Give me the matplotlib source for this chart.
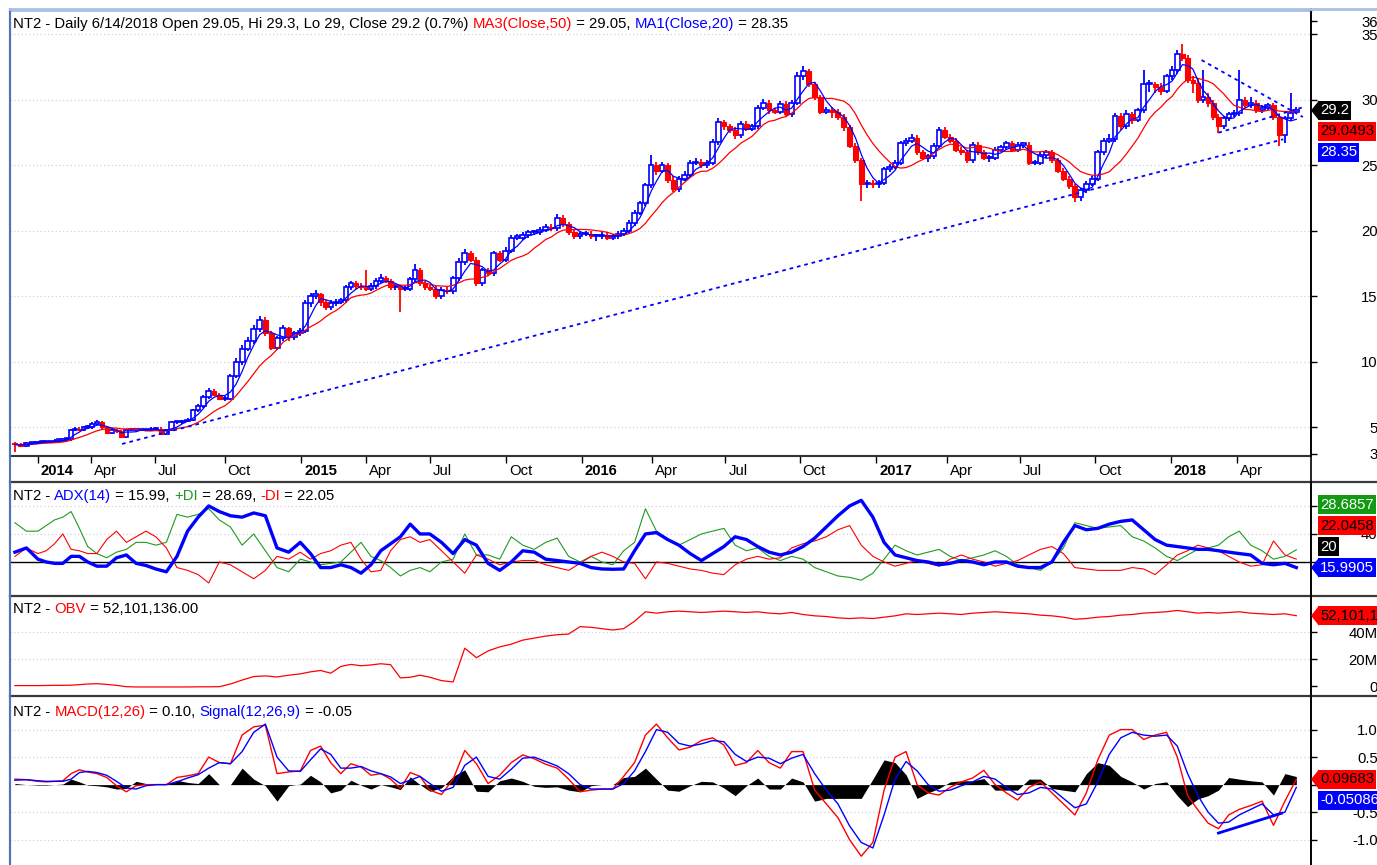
# -*- coding: utf-8 -*-
"""
Gráfico diario de NT2 al estilo AmiBroker: velas, medias móviles,
ADX/DI, OBV y MACD. Las velas se resumen por semana y los indicadores
se leen del gráfico cada dos semanas.
"""
import numpy as np
import pandas as pd
import matplotlib
matplotlib.use("Agg")
from matplotlib import pyplot as plt
import matplotlib.dates as mdates
from matplotlib.lines import Line2D
from matplotlib.patches import Polygon
from matplotlib.transforms import ScaledTranslation

plt.rcParams['font.family'] = ['Liberation Sans', 'DejaVu Sans']
plt.rcParams['font.size'] = 10.7

# ======================
# 1. Datos
# ======================
semanas = pd.date_range("2013-12-04", periods=237, freq="7D")

apertura = [
    3.8, 3.7, 3.6, 3.8, 3.8,
    3.9, 3.9, 3.9, 3.9, 4.0, 4.0, 4.1, 4.1, 4.8, 4.9, 4.8, 5.0,
    5.0, 5.3, 5.4, 5.0, 4.6, 4.8, 4.7, 4.3, 4.8, 4.8, 4.8, 4.8, 4.8,
    4.9, 4.9, 4.5, 4.8, 5.4, 5.4, 5.5, 5.6, 6.3, 6.6, 7.3, 7.8, 7.5,
    7.2, 7.2, 8.9, 10.0, 11.0, 11.6, 12.5, 13.2, 12.2, 11.1, 11.8, 12.6, 11.9, 12.2,
    12.4, 14.5, 15.0, 15.2, 14.6, 14.2, 14.5, 14.6, 14.7, 15.7, 16.0, 15.8,
    15.7, 15.6, 15.8, 16.2, 16.4, 16.2, 15.7, 15.7, 15.6, 15.6, 16.3, 17.0, 16.0,
    15.7, 15.6, 15.0, 15.5, 15.4, 16.4, 17.6, 18.3, 17.8, 16.0, 17.0, 16.8, 18.3, 17.8,
    18.5, 19.5, 19.5, 19.7, 19.9, 19.9, 20.1, 20.3, 20.2, 21.0, 20.5, 19.9, 19.6,
    19.8, 19.8, 19.6, 19.6, 19.7, 19.5, 19.6, 19.8, 20.0, 20.6, 21.4, 22.1, 23.5,
    25.0, 24.6, 25.0, 23.9, 23.2, 24.0, 24.3, 25.2, 25.3, 25.0, 25.2, 26.8, 28.3,
    28.0, 27.7, 27.3, 28.2, 27.8, 28.0, 29.4, 29.8, 29.2, 29.1, 29.7, 28.9, 29.8,
    31.8, 32.2, 31.2, 30.2, 29.1, 29.2, 29.1, 28.7, 27.9, 26.5, 25.4, 23.6, 23.7,
    23.6, 23.7, 24.7, 24.9, 25.2, 26.7, 26.9, 27.1, 26.0, 25.6, 25.7, 26.5, 27.7,
    27.2, 26.9, 26.2, 26.0, 25.4, 26.6, 26.0, 25.6, 25.6, 26.2, 26.4, 26.7, 26.2,
    26.6, 26.6, 25.2, 25.2, 25.8, 26.0, 25.4, 24.6, 24.0, 23.4, 22.6, 23.1, 23.6,
    24.0, 26.0, 26.9, 27.0, 28.8, 28.0, 28.9, 28.5, 29.2, 31.2, 31.2, 31.0, 30.7,
    31.8, 32.3, 33.5, 33.2, 31.5, 31.3, 30.0, 30.2, 29.8, 28.7, 28.0, 28.6, 28.9,
    29.0, 30.0, 29.6, 29.8, 29.2, 29.4, 29.6, 28.7, 27.3, 28.6, 29.05,
]
maximo = [
    3.9, 3.8, 3.9, 3.9, 4.0,
    4.0, 4.0, 4.0, 4.1, 4.1, 4.2, 4.2, 4.9, 5.0, 5.0, 5.1, 5.2,
    5.4, 5.6, 5.5, 5.1, 4.9, 4.9, 4.8, 4.9, 4.9, 4.9, 4.9, 4.9, 5.0,
    5.0, 5.0, 4.9, 5.5, 5.5, 5.6, 5.7, 6.4, 6.8, 7.5, 8.0, 7.9, 7.6,
    7.4, 9.1, 10.3, 11.3, 11.9, 12.8, 13.5, 13.4, 12.4, 12.0, 12.8, 12.7, 12.4, 12.6,
    14.7, 15.3, 15.5, 15.3, 14.7, 14.7, 14.8, 14.9, 15.9, 16.2, 16.2, 16.0,
    17.0, 16.0, 16.4, 16.7, 16.6, 16.3, 15.9, 15.9, 15.8, 16.5, 17.5, 17.2, 16.2,
    15.9, 15.8, 15.7, 15.7, 16.6, 17.9, 18.6, 18.5, 18.0, 17.2, 17.2, 18.5, 18.5, 18.8,
    19.7, 19.8, 19.9, 20.1, 20.1, 20.3, 20.5, 20.5, 21.3, 21.2, 20.7, 20.1, 20.0,
    20.0, 20.0, 19.8, 19.9, 19.9, 19.8, 20.0, 20.2, 20.8, 21.6, 22.3, 23.7, 25.8,
    25.3, 25.3, 25.2, 24.2, 24.2, 24.6, 25.4, 25.6, 25.5, 25.4, 27.0, 28.6, 28.5,
    28.2, 27.9, 28.4, 28.4, 28.2, 29.6, 30.1, 30.0, 29.4, 29.9, 29.9, 30.0, 32.1,
    32.6, 32.4, 31.4, 30.4, 29.5, 29.5, 29.3, 28.9, 28.1, 26.7, 25.6, 23.9, 23.9,
    23.9, 24.9, 25.1, 25.4, 26.9, 27.1, 27.4, 27.3, 26.2, 25.9, 26.7, 27.9, 27.9,
    27.4, 27.1, 26.4, 26.2, 26.8, 26.8, 26.2, 25.8, 26.4, 26.6, 26.9, 26.9, 26.8,
    26.8, 26.8, 25.4, 26.0, 26.2, 26.2, 25.6, 24.8, 24.2, 23.6, 23.3, 23.8, 24.2,
    26.2, 27.1, 27.4, 29.0, 29.0, 29.2, 29.1, 29.4, 32.3, 31.5, 31.4, 31.3, 32.0,
    32.6, 33.8, 34.3, 33.4, 31.8, 31.6, 32.3, 30.5, 30.0, 28.9, 28.8, 29.1, 29.2,
    32.3, 30.2, 30.2, 30.0, 29.6, 29.8, 29.8, 28.9, 28.8, 30.5, 29.5,
]
minimo = [
    3.1, 3.5, 3.5, 3.7, 3.7,
    3.8, 3.8, 3.8, 3.8, 3.9, 3.9, 4.0, 4.0, 4.7, 4.7, 4.7, 4.9,
    4.9, 5.2, 4.9, 4.5, 4.5, 4.6, 4.2, 4.2, 4.7, 4.7, 4.7, 4.7, 4.7,
    4.8, 4.4, 4.4, 4.7, 5.3, 5.3, 5.4, 5.5, 6.2, 6.5, 7.2, 7.4, 7.1,
    7.0, 7.1, 8.8, 9.8, 10.8, 11.4, 12.3, 12.0, 10.9, 10.9, 11.6, 11.6, 11.7, 12.0,
    12.2, 14.2, 14.8, 14.3, 14.0, 14.0, 14.3, 14.4, 14.5, 15.5, 15.6, 15.5,
    15.4, 15.4, 15.6, 16.0, 16.0, 15.5, 15.5, 13.8, 15.4, 15.4, 16.1, 15.8, 15.5,
    15.4, 14.8, 14.8, 15.2, 15.2, 16.2, 17.4, 17.6, 15.8, 15.8, 16.6, 16.6, 17.6, 17.6,
    18.3, 19.3, 19.3, 19.5, 19.7, 19.7, 19.9, 20.0, 20.0, 20.3, 19.7, 19.4, 19.4,
    19.6, 19.4, 19.2, 19.4, 19.3, 19.3, 19.4, 19.6, 19.8, 20.4, 21.2, 21.9, 23.3,
    24.3, 24.4, 23.7, 23.0, 23.0, 23.8, 24.1, 25.0, 24.8, 24.8, 25.0, 26.6, 27.7,
    27.5, 27.0, 27.1, 27.6, 27.6, 27.8, 29.2, 28.9, 28.9, 28.9, 28.7, 28.7, 29.6,
    31.5, 31.0, 30.0, 28.9, 28.9, 28.6, 28.5, 27.6, 26.3, 25.2, 22.3, 23.3, 23.3,
    23.3, 23.5, 24.5, 24.7, 25.0, 26.5, 26.7, 25.8, 25.4, 25.3, 25.5, 26.3, 27.0,
    26.7, 26.0, 25.8, 25.2, 25.2, 25.8, 25.4, 25.3, 25.4, 26.0, 26.2, 26.0, 26.0,
    26.3, 25.0, 25.0, 25.0, 25.6, 25.2, 24.4, 23.8, 23.2, 22.2, 22.3, 22.9, 23.4,
    23.8, 25.8, 26.7, 26.8, 27.7, 27.8, 28.2, 28.3, 29.0, 30.6, 30.5, 30.4, 30.5,
    31.5, 32.0, 33.0, 31.3, 30.5, 29.8, 29.8, 29.5, 28.5, 27.5, 27.8, 28.4, 28.7,
    28.8, 29.4, 29.4, 29.0, 29.0, 29.2, 28.5, 26.5, 26.7, 28.4, 29.0,
]
cierre = [
    3.7, 3.6, 3.8, 3.8, 3.9,
    3.9, 3.9, 3.9, 4.0, 4.0, 4.1, 4.1, 4.8, 4.9, 4.8, 5.0, 5.0,
    5.3, 5.4, 5.0, 4.6, 4.8, 4.7, 4.3, 4.8, 4.8, 4.8, 4.8, 4.8, 4.9,
    4.9, 4.5, 4.8, 5.4, 5.4, 5.5, 5.6, 6.3, 6.6, 7.3, 7.8, 7.5, 7.2,
    7.2, 8.9, 10.0, 11.0, 11.6, 12.5, 13.2, 12.2, 11.1, 11.8, 12.6, 11.9, 12.2, 12.4,
    14.5, 15.0, 15.2, 14.6, 14.2, 14.5, 14.6, 14.7, 15.7, 16.0, 15.8, 15.7,
    15.6, 15.8, 16.2, 16.4, 16.2, 15.7, 15.7, 15.6, 15.6, 16.3, 17.0, 16.0, 15.7,
    15.6, 15.0, 15.5, 15.4, 16.4, 17.6, 18.3, 17.8, 16.0, 17.0, 16.8, 18.3, 17.8, 18.5,
    19.5, 19.5, 19.7, 19.9, 19.9, 20.1, 20.3, 20.2, 21.0, 20.5, 19.9, 19.6, 19.8,
    19.8, 19.6, 19.6, 19.7, 19.5, 19.6, 19.8, 20.0, 20.6, 21.4, 22.1, 23.5, 25.0,
    24.6, 25.0, 23.9, 23.2, 24.0, 24.3, 25.2, 25.3, 25.0, 25.2, 26.8, 28.3, 28.0,
    27.7, 27.3, 28.2, 27.8, 28.0, 29.4, 29.8, 29.2, 29.1, 29.7, 28.9, 29.8, 31.8,
    32.2, 31.2, 30.2, 29.1, 29.2, 29.1, 28.7, 27.9, 26.5, 25.4, 23.6, 23.7, 23.6,
    23.7, 24.7, 24.9, 25.2, 26.7, 26.9, 27.1, 26.0, 25.6, 25.7, 26.5, 27.7, 27.2,
    26.9, 26.2, 26.0, 25.4, 26.6, 26.0, 25.6, 25.6, 26.2, 26.4, 26.7, 26.2, 26.6,
    26.6, 25.2, 25.2, 25.8, 26.0, 25.4, 24.6, 24.0, 23.4, 22.6, 23.1, 23.6, 24.0,
    26.0, 26.9, 27.0, 28.8, 28.0, 28.9, 28.5, 29.2, 31.2, 31.2, 31.0, 30.7, 31.8,
    32.3, 33.5, 33.2, 31.5, 31.3, 30.0, 30.2, 29.8, 28.7, 28.0, 28.6, 28.9, 29.0,
    30.0, 29.6, 29.8, 29.2, 29.4, 29.6, 28.7, 27.3, 28.6, 29.0, 29.2,
]

# indicadores, uno cada dos semanas
adx = [
    27, 30, 22, 20, 19, 19, 24, 24, 20, 17, 17, 23, 25, 19, 17.5, 15, 13, 24, 42, 52,
    60, 56, 53, 52, 55, 53, 30, 27, 34, 26, 16, 16, 18, 16, 12, 18, 28, 33, 38, 47,
    40, 40, 34, 26, 36, 32, 19, 14, 20, 28, 27, 22, 21, 20, 19, 16, 15, 14.8, 15, 28,
    40, 41, 36, 32, 26, 21, 26, 31, 38, 36, 31, 27, 25, 27, 31, 37, 45, 53, 60, 64,
    52, 34, 25, 23, 21, 20, 18, 19, 21, 20, 18, 20, 20, 17, 16, 16, 20, 34, 46, 43,
    44, 47, 49, 50, 43, 36, 32, 31, 30, 29, 29, 28, 27, 26, 25, 19, 18, 19, 15.99,
]
di_mas = [
    48, 42, 42, 46, 50, 52, 56, 44, 31, 26, 23, 27, 29, 34, 34, 32, 34, 54, 52, 54,
    58, 50, 45, 32, 40, 28, 16, 13, 22, 20, 18, 19, 20, 27, 34, 24, 21, 16, 10, 14,
    16, 13, 20, 22, 40, 25, 25, 22, 38, 32, 29, 34, 37, 24, 20, 24, 20, 18, 28, 34,
    58, 42, 36, 32, 36, 40, 42, 44, 32, 28, 30, 24, 21, 24, 22, 16, 13, 10, 9, 7,
    12, 22, 32, 28, 25, 27, 29, 24, 21, 23, 25, 28, 24, 18, 16, 14, 20, 30, 48, 46,
    44, 45, 46, 38, 35, 30, 24, 21, 25, 29, 30, 32, 38, 42, 32, 28, 22, 24, 28.69,
]
di_menos = [
    24, 30, 26, 28, 33, 40, 29, 28, 26, 26, 36, 42, 34, 38, 42, 38, 30, 16, 14, 11,
    5, 20, 18, 13, 8, 14, 24, 22, 27, 22, 26, 28, 32, 34, 22, 13, 14, 28, 36, 38,
    34, 36, 28, 20, 12, 25, 22, 18, 20, 21, 21, 18, 16, 14, 19, 24, 27, 24, 20, 19,
    8, 20, 19, 17, 15, 14, 12, 11, 18, 22, 24, 22, 23, 30, 33, 35, 38, 43, 46, 32,
    24, 20, 17, 19, 21, 19, 17, 22, 25, 22, 20, 17, 19, 21, 25, 29, 31, 26, 16, 15,
    14, 14, 14, 16, 15, 11, 18, 25, 28, 32, 30, 28, 24, 20, 17, 18, 35, 25, 22.05,
]
obv_millones = [
    0.3, 0.3, 0.3, 0.4, 0.5, 0.5, 0.6, 1.0, 1.5, 1.7,
    1.2, 0.5, -0.5, -0.7, -0.7, -0.7, -0.7, -0.7, -0.7, -0.6,
    -0.6, -0.5, 1.5, 4.4, 7.0, 7.5, 6.7, 8.0, 9.0, 10.5,
    11.5, 9.5, 14.5, 16.0, 15.0, 15.6, 16.5, 15.8, 6.0, 6.5,
    8.0, 6.5, 4.0, 3.0, 28.0, 21.0, 26.0, 29.0, 31.0, 34.0,
    35.5, 37.0, 38.0, 38.5, 44.0, 43.5, 42.5, 41.5, 42.5, 48.0,
    55.0, 54.0, 55.0, 55.5, 55.0, 54.5, 55.0, 55.5, 55.0, 54.5,
    55.0, 54.0, 53.5, 54.5, 53.0, 52.0, 51.5, 50.5, 50.0, 50.5,
    50.0, 51.0, 52.0, 53.5, 53.0, 53.5, 54.0, 53.5, 53.0, 54.0,
    54.5, 55.0, 54.5, 54.0, 53.5, 52.5, 52.0, 51.0, 49.5, 50.0,
    51.0, 51.5, 52.5, 53.0, 54.0, 54.5, 55.0, 56.0, 55.0, 54.0,
    54.5, 54.0, 54.5, 55.0, 54.0, 53.5, 53.0, 53.5, 52.1,
]
macd = [
    0.1, 0.09, 0.06, 0.05, 0.06, 0.07, 0.2, 0.27, 0.23, 0.2,
    0.13, -0.02, -0.13, -0.02, 0.0, 0.0, 0.0, 0.13, 0.16, 0.2,
    0.5, 0.4, 0.38, 0.9, 1.05, 1.08, 0.2, 0.23, 0.25, 0.62,
    0.7, 0.4, 0.2, 0.38, 0.32, 0.17, 0.2, 0.1, -0.07, 0.22,
    0.15, -0.1, -0.18, 0.1, 0.62, 0.38, 0.02, 0.17, 0.4, 0.54,
    0.47, 0.37, 0.3, 0.1, -0.13, -0.1, -0.08, -0.08, 0.15, 0.4,
    0.9, 1.1, 0.85, 0.63, 0.68, 0.8, 0.85, 0.72, 0.35, 0.4,
    0.62, 0.4, 0.3, 0.6, 0.6, -0.1, -0.35, -0.6, -1.0, -1.3,
    -1.05, -0.1, 0.5, 0.6, 0.0, -0.15, -0.19, -0.05, 0.05, 0.12,
    0.26, 0.0, -0.15, -0.28, -0.05, 0.05, -0.15, -0.35, -0.55, -0.15,
    0.45, 0.9, 1.0, 1.0, 0.82, 0.9, 0.95, 0.5, -0.2, -0.46,
    -0.7, -0.8, -0.55, -0.45, -0.38, -0.3, -0.74, -0.3, 0.097,
]
senal = [
    0.08, 0.09, 0.07, 0.06, 0.06, 0.06, 0.1, 0.22, 0.24, 0.22,
    0.17, 0.06, -0.06, -0.08, -0.02, 0.0, 0.0, 0.05, 0.12, 0.18,
    0.3, 0.4, 0.38, 0.6, 0.95, 1.1, 0.5, 0.25, 0.24, 0.45,
    0.65, 0.55, 0.3, 0.3, 0.33, 0.25, 0.2, 0.14, 0.02, 0.08,
    0.15, 0.02, -0.12, -0.05, 0.35, 0.5, 0.15, 0.1, 0.28, 0.48,
    0.5, 0.42, 0.34, 0.2, 0.0, -0.08, -0.08, -0.08, 0.02, 0.25,
    0.6, 1.0, 0.95, 0.75, 0.7, 0.74, 0.8, 0.78, 0.55, 0.42,
    0.5, 0.48, 0.38, 0.48, 0.55, 0.2, -0.1, -0.35, -0.75, -1.05,
    -1.15, -0.55, 0.1, 0.42, 0.25, 0.0, -0.12, -0.1, -0.02, 0.05,
    0.15, 0.1, -0.05, -0.18, -0.15, -0.05, -0.08, -0.25, -0.42, -0.35,
    0.05, 0.55, 0.85, 0.95, 0.9, 0.88, 0.9, 0.7, 0.2, -0.2,
    -0.5, -0.7, -0.68, -0.55, -0.45, -0.35, -0.55, -0.5, -0.05,
]

# líneas de tendencia dibujadas a mano (fecha, valor)
tendencia_larga = (["2014-05-15", "2018-05-28"], [3.74, 27.0])
cuna_superior = (["2018-02-12", "2018-06-21"], [33.05, 28.7])
cuna_inferior = (["2018-03-07", "2018-06-24"], [27.5, 29.5])
tendencia_macd = (["2018-03-07", "2018-05-26"], [-0.88, -0.52])

# eje x por sesiones (AmiBroker separa las barras por sesión, no por día)
fechas_ancla = ["2010-01-01", "2013-12-01", "2014-01-01", "2014-04-01", "2014-07-01",
                "2014-10-01", "2015-01-01", "2015-04-01", "2015-07-01", "2015-10-01",
                "2016-01-01", "2016-04-01", "2016-07-01", "2016-10-01", "2017-01-01",
                "2017-04-01", "2017-07-01", "2017-10-01", "2018-01-01", "2018-04-01",
                "2018-07-01", "2022-01-01"]
sesiones_ancla = [-1000, 0, 22, 68, 123, 183, 249, 305, 360, 426, 491, 552, 615,
                  679, 745, 806, 869, 934, 999, 1056, 1120, 2020]

ticks_fechas = ["2014-01-01", "2014-04-01", "2014-07-01", "2014-10-01", "2015-01-01",
                "2015-04-01", "2015-07-01", "2015-10-01", "2016-01-01", "2016-04-01",
                "2016-07-01", "2016-10-01", "2017-01-01", "2017-04-01", "2017-07-01",
                "2017-10-01", "2018-01-01", "2018-04-01"]
ticks_textos = ["2014", "Apr", "Jul", "Oct", "2015", "Apr", "Jul", "Oct", "2016", "Apr",
                "Jul", "Oct", "2017", "Apr", "Jul", "Oct", "2018", "Apr"]

# ======================
# 2. Preparación
# ======================
ROJO, AZUL, VERDE, NEGRO = "#ff0000", "#0000ff", "#1f9a1f", "#000000"
GRIS_REJILLA = "#cfd0e0"
W, H = 1377, 865

x_sem = mdates.date2num(semanas)
x_ind = x_sem[::2]
o = np.array(apertura)
hi = np.array(maximo)
lo = np.array(minimo)
c = np.array(cierre)
serie_cierre = pd.Series(cierre)
ma50 = serie_cierre.rolling(10, min_periods=1).mean()
ma20 = serie_cierre.rolling(4, min_periods=1).mean()
histograma = np.array(macd) - np.array(senal)

anc_x = mdates.date2num(pd.to_datetime(fechas_ancla))
anc_s = np.array(sesiones_ancla, dtype=float)


def adelante(x):
    return np.interp(x, anc_x, anc_s)


def atras(s):
    return np.interp(s, anc_s, anc_x)


def fechas(lista):
    return mdates.date2num(pd.to_datetime(lista))


x_ini, x_fin = fechas(["2013-11-28", "2018-07-01"])

# ======================
# 3. Figura y paneles
# ======================
fig = plt.figure(figsize=(W / 100, H / 100), dpi=100)
fig.patch.set_facecolor("white")


def rect(arriba, abajo):
    return [10 / W, 1 - abajo / H, 1301 / W, (abajo - arriba) / H]


ax_p = fig.add_axes(rect(10, 456))
ax_a = fig.add_axes(rect(482, 596))
ax_o = fig.add_axes(rect(596, 696))
ax_m = fig.add_axes(rect(696, 865))

limites_y = {ax_p: (2.82, 36.87), ax_a: (-4.3, 77.1), ax_o: (-7.4, 66.7), ax_m: (-1.46, 1.61)}
for ax, lim in limites_y.items():
    ax.set_xscale("function", functions=(adelante, atras))
    ax.set_xlim(x_ini, x_fin)
    ax.set_ylim(*lim)
    ax.yaxis.tick_right()
    ax.tick_params(axis="y", direction="out", length=4, width=1, pad=44, labelsize=10.7)
    ax.spines["left"].set_color("#4f74b8")
    ax.spines["left"].set_linewidth(1.5)
    ax.spines["right"].set_color(NEGRO)
    ax.spines["right"].set_linewidth(1.2)
    if ax is not ax_p:
        ax.spines["top"].set_visible(False)
        ax.spines["bottom"].set_visible(False)
        ax.set_xticks([])

ax_p.spines["top"].set_color("#a9c0e6")
ax_p.spines["top"].set_linewidth(2)
ax_p.spines["bottom"].set_color("#333333")
ax_p.spines["bottom"].set_linewidth(1.5)

# ticks de fecha
ax_p.set_xticks(fechas(ticks_fechas))
ax_p.set_xticklabels(ticks_textos, ha="left")
ax_p.tick_params(axis="x", direction="out", length=5, width=1, pad=1, labelsize=10.7)
desplazamiento = ScaledTranslation(3 / 100, 0, fig.dpi_scale_trans)
for lbl, txt in zip(ax_p.get_xticklabels(), ticks_textos):
    lbl.set_transform(lbl.get_transform() + desplazamiento)
    if txt.isdigit():
        lbl.set_fontweight("bold")

# ticks y (las marcas tapadas por las etiquetas de valor quedan sin texto)
ax_p.set_yticks([3, 5, 10, 15, 20, 25, 30, 35, 36])
ax_p.set_yticklabels(["3", "5", "10", "15", "20", "25", "30", "35", "36"])
ax_a.set_yticks([20, 40, 60])
ax_a.set_yticklabels(["", "40", ""])
ax_o.set_yticks([0, 20, 40])
ax_o.set_yticklabels(["0", "20M", "40M"])
ax_m.set_yticks([-1, -0.5, 0, 0.5, 1])
ax_m.set_yticklabels(["-1.0", "-0.5", "", "0.5", "1.0"])
for ax in limites_y:
    for lbl in ax.get_yticklabels():
        lbl.set_horizontalalignment("right")

# rejilla punteada
rejilla = {ax_p: [5, 10, 15, 20, 25, 30, 35], ax_a: [40, 60], ax_o: [20, 40],
           ax_m: [-1, -0.5, 0.5, 1]}
for ax, niveles in rejilla.items():
    for nivel in niveles:
        ax.axhline(nivel, color=GRIS_REJILLA, lw=0.9, ls=(0, (1, 2)), zorder=0)

# ======================
# 4. Precio
# ======================
sube = c >= o
colores = np.where(sube, AZUL, ROJO)
ax_p.vlines(x_sem, lo, hi, colors=colores, lw=1.3, zorder=2)
cuerpo = np.maximum(np.abs(c - o), 0.08)
base = np.minimum(o, c)
ax_p.bar(x_sem[sube], cuerpo[sube], bottom=base[sube], width=6.0,
         facecolor="white", edgecolor=AZUL, linewidth=1.2, zorder=3)
ax_p.bar(x_sem[~sube], cuerpo[~sube], bottom=base[~sube], width=6.0,
         facecolor=ROJO, edgecolor=ROJO, linewidth=0.8, zorder=3)
ax_p.plot(x_sem, ma50, color=ROJO, lw=0.9, zorder=4)
ax_p.plot(x_sem, ma20, color=AZUL, lw=0.9, zorder=4)
for f, v in (tendencia_larga, cuna_superior, cuna_inferior):
    ax_p.plot(fechas(f), v, color=AZUL, lw=1.3, ls=(0, (2, 2.2)), zorder=5)

# ======================
# 5. Indicadores
# ======================
ax_a.axhline(20, color=NEGRO, lw=1, zorder=1)
ax_a.plot(x_ind, di_mas, color=VERDE, lw=0.8, zorder=2)
ax_a.plot(x_ind, di_menos, color=ROJO, lw=0.8, zorder=2)
ax_a.plot(x_ind, adx, color=AZUL, lw=2.4, zorder=3)

ax_o.plot(x_ind, obv_millones, color=ROJO, lw=0.9)

ax_m.fill_between(x_ind, 0, histograma, color=NEGRO, lw=0, zorder=1)
ax_m.plot(x_ind, macd, color=ROJO, lw=1, zorder=2)
ax_m.plot(x_ind, senal, color=AZUL, lw=1, zorder=2)
ax_m.plot(fechas(tendencia_macd[0]), tendencia_macd[1], color=AZUL, lw=2, zorder=3)

# ======================
# 6. Títulos de colores
# ======================


def texto_color(ax, y_px, partes):
    t = ax.text(13 / W, 1 - y_px / H, partes[0][0], color=partes[0][1],
                transform=fig.transFigure, ha="left", va="center", fontsize=10.7, zorder=6)
    for s, col in partes[1:]:
        t = ax.annotate(s, xy=(1, 0.5), xycoords=t, ha="left", va="center",
                        color=col, fontsize=10.7, zorder=6)


texto_color(ax_p, 24, [("NT2 - Daily 6/14/2018 Open 29.05, Hi 29.3, Lo 29, Close 29.2 (0.7%) ", NEGRO),
                       ("MA3(Close,50)", ROJO), (" = 29.05, ", NEGRO),
                       ("MA1(Close,20)", AZUL), (" = 28.35", NEGRO)])
texto_color(ax_a, 496, [("NT2 - ", NEGRO), ("ADX(14)", AZUL), (" = 15.99, ", NEGRO),
                        ("+DI", VERDE), (" = 28.69, ", NEGRO), ("-DI", ROJO),
                        (" = 22.05", NEGRO)])
texto_color(ax_o, 609, [("NT2 - ", NEGRO), ("OBV", ROJO), (" = 52,101,136.00", NEGRO)])
texto_color(ax_m, 712, [("NT2 - ", NEGRO), ("MACD(12,26)", ROJO), (" = 0.10, ", NEGRO),
                        ("Signal(12,26,9)", AZUL), (" = -0.05", NEGRO)])

# ======================
# 7. Etiquetas de valor en el eje derecho
# ======================


def etiquetas(ax, valor, lista):
    y0 = ax.transData.transform((x_ini, valor))[1]
    for texto, fondo, tinta, fila, flecha in lista:
        y = y0 - fila * 21
        if flecha:
            fig.add_artist(Polygon([[1311 / W, y / H], [1319 / W, (y + 10) / H],
                                    [1319 / W, (y - 10) / H]], closed=True,
                                   transform=fig.transFigure, fc=fondo, ec="none", zorder=7))
        fig.text(1320 / W, y / H, texto, color=tinta, ha="left", va="center", fontsize=10.7,
                 zorder=8, bbox=dict(boxstyle="square,pad=0.15", fc=fondo, ec="none"))


etiquetas(ax_p, 29.2, [("29.2", NEGRO, "white", 0, True),
                       ("29.0493", ROJO, NEGRO, 1, False),
                       ("28.35", AZUL, "white", 2, False)])
etiquetas(ax_a, 15.99, [("15.9905", AZUL, "white", 0, True),
                        ("20", NEGRO, "white", -1, False),
                        ("22.0458", ROJO, NEGRO, -2, False),
                        ("28.6857", "#139a13", "white", -3, False)])
etiquetas(ax_o, 52.1, [("52,101,136", ROJO, NEGRO, 0, True)])
etiquetas(ax_m, 0.0968, [("0.09683", ROJO, NEGRO, 0, True),
                         ("-0.05086", AZUL, "white", 1, False)])

# ======================
# 8. Bordes y separadores
# ======================
for y_px in (482, 596, 696):
    fig.add_artist(Line2D([10 / W, 1], [1 - y_px / H] * 2, transform=fig.transFigure,
                          color="#3a3a3a", lw=1.6, zorder=5))
fig.add_artist(Line2D([1311 / W] * 2, [0, 1 - 9 / H], transform=fig.transFigure,
                      color=NEGRO, lw=1.2, zorder=5))
fig.add_artist(Line2D([10 / W] * 2, [0, 1 - 9 / H], transform=fig.transFigure,
                      color="#4f74b8", lw=1.5, zorder=5))
fig.add_artist(Line2D([10 / W, 1], [1 - 9 / H] * 2, transform=fig.transFigure,
                      color="#a9c0e6", lw=2, zorder=5))

fig.savefig("out.png", dpi=100)
